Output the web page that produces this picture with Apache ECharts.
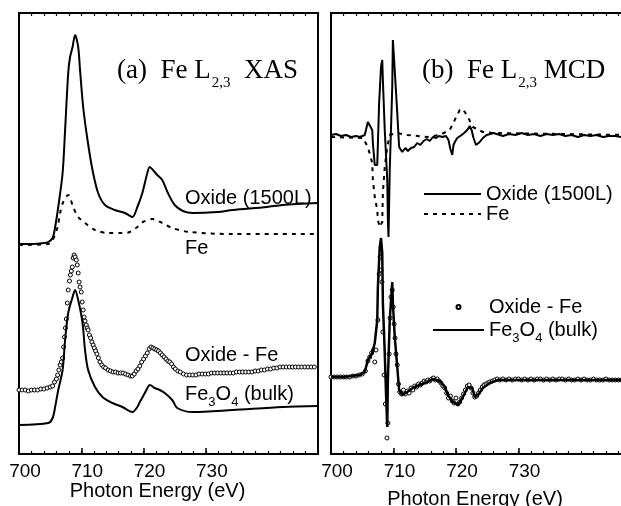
<!DOCTYPE html>
<html>
<head>
<meta charset="utf-8">
<script src="https://cdn.jsdelivr.net/npm/echarts@6.0.0/dist/echarts.min.js"></script>
<style>
html, body { margin: 0; padding: 0; background: #fff; }
#main { width: 621px; height: 506px; }
</style>
</head>
<body>
<div id="main"></div>
<script>
const SANS = '"Liberation Sans", Arial, sans-serif';
const SERIF = '"Liberation Serif", "Times New Roman", serif';

// photon energy axis (eV)
const energyMin = 700;
const energyMax = 748;
const majorStep = 10;
const minorStep = 2;
const tickLabels = [700, 710, 720, 730, 740];

// (a) Fe L2,3 XAS, arbitrary units with offsets as in the figure
const xasOxide = [[700.0,210],[702.0,210],[704.0,211],[704.7,212],[705.4,216],[705.8,227],[706.3,247],[707.0,281],[707.4,324],[707.9,381],[708.2,397],[708.6,407],[709.0,419],[709.5,407],[709.8,384],[710.3,347],[711.0,314],[711.8,284],[712.7,261],[713.8,249],[715.4,244],[717.0,241],[718.2,237],[719.0,247],[719.8,261],[720.6,281],[721.0,287],[721.5,284],[722.2,279],[723.0,274],[723.9,261],[725.0,249],[726.3,243],[727.9,241],[731.8,242],[734.3,244],[739.8,247],[742.3,249],[748.0,251]];
const xasFe = [[700.0,209],[704.7,210],[705.4,214],[706.2,227],[706.6,241],[707.1,252],[707.9,259],[708.7,247],[709.5,237],[710.6,231],[712.2,224],[714.3,221],[716.6,221],[717.8,222],[719.0,227],[719.9,232],[721.4,235],[723.0,231],[724.6,226],[727.4,222],[734.3,220],[748.0,220]];
const xasDiff = [[700.0,64],[700.5,64],[701.0,64],[701.5,63],[702.0,64],[702.5,64],[703.0,64],[703.5,65],[704.0,65],[704.5,66],[705.0,67],[705.4,68],[705.7,72],[706.0,75],[706.2,79],[706.4,84],[706.6,89],[706.8,92],[707.0,96],[707.15,107],[707.3,117],[707.45,126],[707.6,135],[707.75,151],[707.9,164],[708.1,173],[708.25,179],[708.4,183],[708.55,187],[708.7,196],[708.85,199],[709.0,197],[709.2,194],[709.35,189],[709.5,181],[709.65,172],[709.8,167],[710.0,162],[710.15,152],[710.3,144],[710.45,137],[710.6,133],[710.8,129],[710.95,126],[711.1,124],[711.3,119],[711.5,116],[711.7,112],[711.9,109],[712.1,106],[712.3,103],[712.5,100],[712.75,96],[713.0,92],[713.3,89],[713.6,87],[713.9,86],[714.3,84],[714.7,83],[715.1,82],[715.5,82],[715.9,81],[716.3,81],[716.7,81],[717.1,80],[717.5,79],[717.9,78],[718.2,78],[718.5,80],[718.8,83],[719.1,85],[719.4,88],[719.7,92],[720.0,95],[720.3,98],[720.6,101],[720.9,105],[721.2,107],[721.5,106],[721.8,105],[722.1,104],[722.4,103],[722.7,101],[723.0,99],[723.3,97],[723.6,95],[723.9,93],[724.2,92],[724.5,90],[724.8,87],[725.1,85],[725.5,83],[725.9,82],[726.4,80],[726.9,79],[727.4,79],[727.9,79],[728.4,79],[728.9,80],[729.4,80],[729.9,80],[730.4,80],[730.9,81],[731.4,81],[731.9,81],[732.4,81],[732.9,81],[733.4,81],[733.9,81],[734.4,81],[734.9,82],[735.4,82],[735.9,82],[736.4,82],[736.9,82],[737.4,82],[737.9,83],[738.4,83],[738.9,84],[739.4,84],[739.9,85],[740.4,85],[740.9,86],[741.4,86],[741.9,87],[742.4,87],[742.9,87],[743.4,87],[743.9,87],[744.4,87],[744.9,87],[745.4,87],[745.9,87],[746.4,87],[746.9,87],[747.4,87]];
const xasBulk = [[700.0,29],[704.7,31],[705.4,36],[705.8,47],[706.3,64],[707.0,84],[707.4,114],[707.9,141],[708.6,157],[709.0,164],[709.5,154],[710.2,131],[710.6,104],[711.1,84],[712.2,67],[713.4,57],[715.0,51],[716.6,47],[718.2,42],[719.0,47],[719.4,52],[720.2,61],[720.7,67],[721.0,69],[721.8,66],[722.6,64],[723.4,61],[724.6,54],[725.4,46],[727.9,42],[734.3,44],[742.3,47],[748.0,48]];

// (b) Fe L2,3 MCD
const mcdOxide = [[700.0,319],[700.8,320],[701.6,318],[702.4,319],[703.2,317],[704.0,318],[704.6,317],[705.4,319],[705.9,332],[706.6,324],[706.7,311],[707.0,289],[707.4,289],[707.7,351],[708.0,387],[708.2,394],[708.3,374],[708.6,324],[709.0,274],[709.1,234],[709.2,217],[709.4,284],[709.8,367],[709.9,414],[710.1,394],[710.6,341],[710.9,307],[711.4,302],[711.9,306],[712.3,303],[712.8,306],[713.3,307],[713.8,311],[714.3,309],[714.8,313],[715.3,315],[715.8,313],[716.3,317],[716.8,316],[717.3,318],[717.8,317],[718.4,318],[718.8,314],[719.1,305],[719.4,299],[719.6,309],[719.9,313],[720.2,316],[720.5,314],[720.9,319],[721.3,321],[721.8,324],[722.2,328],[722.5,324],[722.8,316],[723.2,309],[723.4,308],[723.8,312],[724.3,316],[724.9,319],[725.5,320],[726.0,321],[726.5,320],[727.5,318],[728.5,320],[729.5,319],[730.5,321],[731.5,319],[732.5,320],[733.5,318],[734.5,320],[735.5,319],[736.5,320],[737.5,318],[738.5,319],[739.5,317],[740.5,319],[741.5,318],[742.5,319],[743.5,317],[744.5,318],[745.5,318],[746.5,317],[748.0,318]];
const mcdFe = [[700.0,317],[705.1,316],[705.9,307],[706.6,291],[706.7,274],[707.0,257],[707.4,244],[707.5,234],[707.8,227],[708.2,232],[708.3,261],[708.6,287],[709.0,307],[709.4,319],[710.6,321],[712.2,319],[715.4,317],[717.4,319],[719.0,324],[719.8,334],[720.6,344],[721.1,345],[721.9,337],[722.7,327],[724.3,322],[725.9,321],[748.0,319]];
const mcdDiff = [[700.0,77],[700.5,77],[701.0,77],[701.5,77],[702.0,77],[702.5,77],[703.0,77],[703.5,78],[704.0,78],[704.5,79],[705.0,80],[705.5,83],[705.9,93],[706.2,97],[706.5,101],[706.8,104],[707.0,92],[707.2,104],[707.5,134],[707.7,180],[707.85,197],[708.0,184],[708.15,172],[708.3,122],[708.5,79],[708.7,50],[708.95,16],[709.1,31],[709.3,100],[709.45,136],[709.6,157],[709.8,164],[709.95,147],[710.1,130],[710.25,116],[710.4,100],[710.6,89],[710.8,70],[711.0,62],[711.3,60],[711.6,64],[711.9,60],[712.2,63],[712.5,61],[712.8,66],[713.1,64],[713.4,68],[713.7,67],[714.0,70],[714.3,69],[714.6,71],[714.9,73],[715.2,72],[715.5,74],[715.8,73],[716.1,75],[716.4,76],[716.7,74],[717.0,75],[717.3,73],[717.6,71],[717.9,68],[718.2,66],[718.5,61],[718.8,56],[719.1,58],[719.4,53],[719.7,51],[720.0,56],[720.3,50],[720.6,52],[720.9,56],[721.2,60],[721.5,64],[721.8,68],[722.1,69],[722.4,66],[722.7,61],[723.0,57],[723.3,58],[723.6,61],[723.9,64],[724.2,67],[724.5,69],[724.8,70],[725.1,71],[725.4,72],[725.8,73],[726.2,74],[726.6,75],[727.0,74],[727.5,75],[728.0,74],[728.5,75],[729.0,74],[729.5,75],[730.0,75],[730.5,74],[731.0,75],[731.5,74],[732.0,75],[732.5,74],[733.0,75],[733.5,75],[734.0,74],[734.5,75],[735.0,74],[735.5,75],[736.0,74],[736.5,75],[737.0,75],[737.5,74],[738.0,75],[738.5,74],[739.0,74],[739.5,75],[740.0,74],[740.5,75],[741.0,74],[741.5,74],[742.0,75],[742.5,74],[743.0,74],[743.5,74],[744.0,75],[744.5,74],[745.0,74],[745.5,74],[746.0,74],[746.5,74],[747.0,74],[747.5,74]];
const mcdBulk = [[700.0,77],[702.0,77],[704.6,79],[705.4,82],[705.9,94],[706.6,101],[707.0,111],[707.4,134],[707.5,167],[707.8,207],[708.0,216],[708.2,201],[708.3,151],[708.6,101],[708.8,61],[709.0,27],[709.1,74],[709.4,134],[709.8,172],[709.9,151],[710.2,117],[710.6,87],[710.9,64],[711.4,59],[712.2,62],[713.1,66],[714.2,69],[715.4,72],[716.3,75],[717.4,73],[718.2,67],[718.7,59],[719.5,52],[720.3,49],[721.1,57],[721.9,67],[722.6,66],[723.0,57],[723.5,59],[724.3,66],[725.4,71],[726.7,74],[748.0,74]];

const names = { oxide: 'Oxide (1500L)', fe: 'Fe', diff: 'Oxide - Fe', bulk: 'Fe3O4 (bulk)' };

const rich = {
  n: { fontSize: 20, fontFamily: SANS, color: '#000', fill: '#000', lineHeight: 20, verticalAlign: 'top' },
  s: { fontSize: 13, fontFamily: SANS, color: '#000', fill: '#000', lineHeight: 13, verticalAlign: 'top', padding: [12, 0, 0, 0] }
};
const titleRich = {
  m: { fontSize: 27, fontFamily: SERIF, color: '#000', fill: '#000', lineHeight: 27, verticalAlign: 'top' },
  s: { fontSize: 15, fontFamily: SERIF, color: '#000', fill: '#000', lineHeight: 15, verticalAlign: 'top', padding: [19, 0, 0, 1] }
};
function richName(name) {
  return name === names.bulk ? '{n|Fe}{s|3}{n|O}{s|4}{n| (bulk)}' : '{n|' + name + '}';
}

function axesFor(g, nameGap, nameShift) {
  const base = { gridIndex: g, type: 'value', min: energyMin, max: energyMax,
    axisLine: { show: false }, splitLine: { show: false } };
  return [
    Object.assign({}, base, {
      position: 'bottom', interval: majorStep,
      axisTick: { inside: true, length: 6, customValues: tickLabels, lineStyle: { color: '#000', width: 1.5 } },
      axisLabel: { fontSize: 19, fontFamily: SANS, color: '#000', margin: 8, padding: [0, 0, 0, 12],
        customValues: tickLabels, showMaxLabel: false,
        formatter: function (v) { return v % majorStep === 0 ? String(v) : ' '; } },
      name: 'Photon Energy (eV)', nameLocation: 'middle', nameGap: nameGap, nameMoveOverlap: false,
      nameTextStyle: { fontSize: 20, fontFamily: SANS, color: '#000', padding: [0, nameShift, 0, 0] }
    }),
    Object.assign({}, base, {
      position: 'bottom', interval: minorStep,
      axisTick: { inside: true, length: 3, lineStyle: { color: '#000', width: 1.2 } },
      axisLabel: { show: false }
    }),
    Object.assign({}, base, {
      position: 'top', interval: minorStep,
      axisTick: { inside: true, length: 3, lineStyle: { color: '#000', width: 1.2 } },
      axisLabel: { show: false }
    })
  ];
}

function line(name, data, xi, yi, dashed, width) {
  return { name: name, type: 'line', xAxisIndex: xi, yAxisIndex: yi, data: data,
    symbol: 'none', smooth: xi === 0 ? 0.3 : false, z: 3,
    lineStyle: { color: '#000', width: width, type: dashed ? [4, 5] : 'solid' },
    itemStyle: { color: '#000' } };
}
function dots(name, data, xi, yi) {
  return { name: name, type: 'scatter', xAxisIndex: xi, yAxisIndex: yi, data: data,
    symbol: 'circle', symbolSize: 4, z: 2,
    itemStyle: { color: '#fff', borderColor: '#000', borderWidth: 1, opacity: 1 } };
}

const noSymbol = { opacity: 0 };
const frame = { top: 13, height: 441, show: true, borderColor: '#000', borderWidth: 2,
  backgroundColor: 'transparent', containLabel: false, outerBoundsMode: 'none' };

const option = {
  animation: false,
  backgroundColor: '#fff',
  grid: [
    Object.assign({ left: 19, width: 299 }, frame),
    Object.assign({ left: 331, width: 300 }, frame)
  ],
  xAxis: axesFor(0, 27, 22).concat(axesFor(1, 35, 12)),
  yAxis: [
    { gridIndex: 0, type: 'value', min: 0, max: 441, show: false },
    { gridIndex: 1, type: 'value', min: 0, max: 441, show: false }
  ],
  legend: [
    { data: [{ name: names.oxide, itemStyle: noSymbol }, { name: names.fe, itemStyle: noSymbol }],
      orient: 'vertical', left: 423, top: 184, padding: 0,
      itemWidth: 57, itemHeight: 14, itemGap: 0, selectedMode: false,
      formatter: richName, textStyle: { rich: rich } },
    { data: [{ name: names.diff }, { name: names.bulk, itemStyle: noSymbol }],
      orient: 'vertical', left: 432, top: 297, padding: 0,
      itemWidth: 51, itemHeight: 4, itemGap: 3, selectedMode: false,
      formatter: richName, textStyle: { rich: rich } }
  ],
  graphic: [
    { type: 'text', x: 117, y: 57, style: { text: '{m|(a)  Fe L}{s|2,3}{m|  XAS}', rich: titleRich } },
    { type: 'text', x: 422, y: 57, style: { text: '{m|(b)  Fe L}{s|2,3}{m| MCD}', rich: titleRich } },
    { type: 'text', x: 185, y: 188, style: { text: richName(names.oxide), rich: rich } },
    { type: 'text', x: 185, y: 238, style: { text: richName(names.fe), rich: rich } },
    { type: 'text', x: 185, y: 345, style: { text: richName(names.diff), rich: rich } },
    { type: 'text', x: 185, y: 384, style: { text: richName(names.bulk), rich: rich } }
  ],
  series: [
    line(names.oxide, xasOxide, 0, 0, false, 2),
    line(names.fe, xasFe, 0, 0, true, 2),
    dots(names.diff, xasDiff, 0, 0),
    line(names.bulk, xasBulk, 0, 0, false, 2),
    line(names.oxide, mcdOxide, 3, 1, false, 2),
    line(names.fe, mcdFe, 3, 1, true, 2),
    dots(names.diff, mcdDiff, 3, 1),
    line(names.bulk, mcdBulk, 3, 1, false, 2.5)
  ]
};

const chart = echarts.init(document.getElementById('main'), null, { renderer: 'canvas' });
chart.setOption(option);
</script>
</body>
</html>
